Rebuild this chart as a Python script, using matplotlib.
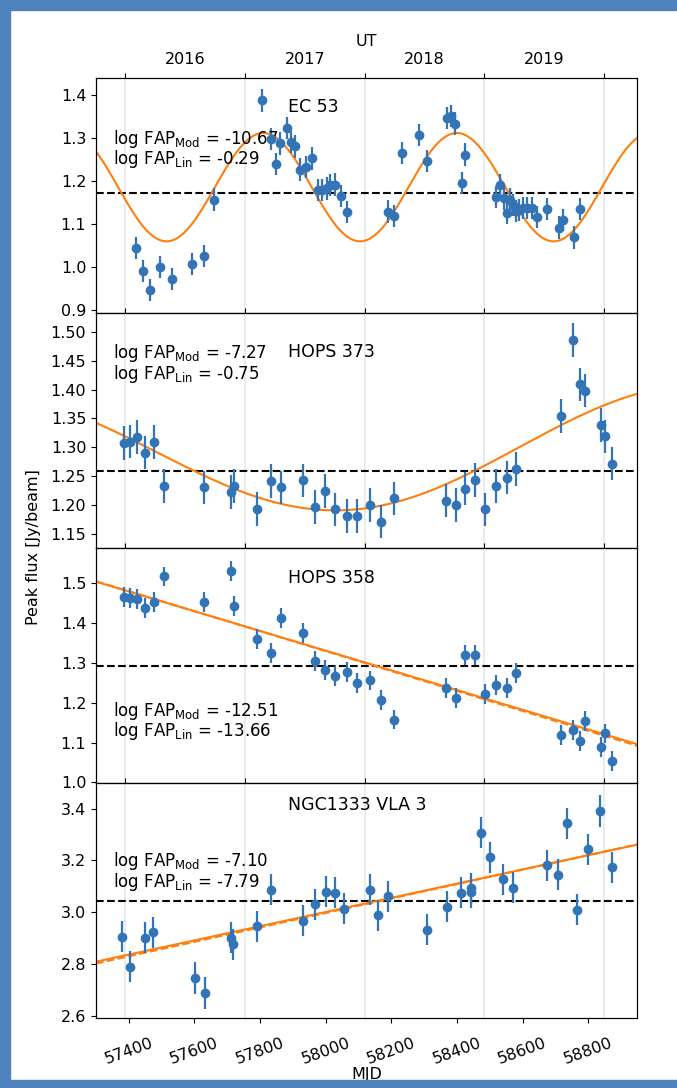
import numpy as np
import matplotlib.pyplot as plt
from matplotlib.patches import Rectangle

plt.rcParams['font.size'] = 11.5

xlim = (57300, 58950)
mjd_ticks = [57400, 57600, 57800, 58000, 58200, 58400, 58600, 58800]
year_start = [57388, 57754, 58119, 58484, 58849]
year_mid = [57571, 57937, 58302, 58667]
year_labels = ['2016', '2017', '2018', '2019']

ec53_mjd = [57422, 57444, 57465, 57494, 57531, 57593, 57629, 57661, 57807, 57834,
            57848, 57862, 57881, 57895, 57908, 57922, 57941, 57958, 57976, 57990,
            58004, 58014, 58027, 58046, 58066, 58190, 58209, 58234, 58285, 58308,
            58371, 58382, 58395, 58415, 58426, 58520, 58532, 58544, 58554, 58562,
            58571, 58579, 58590, 58601, 58614, 58629, 58644, 58676, 58711, 58724,
            58758, 58776]
ec53_flux = [1.045, 0.991, 0.946, 1.001, 0.972, 1.008, 1.026, 1.157, 1.388, 1.298,
             1.240, 1.288, 1.324, 1.291, 1.281, 1.227, 1.233, 1.253, 1.179, 1.179,
             1.183, 1.191, 1.192, 1.166, 1.128, 1.129, 1.119, 1.266, 1.308, 1.247,
             1.347, 1.351, 1.334, 1.195, 1.262, 1.163, 1.190, 1.160, 1.126, 1.157,
             1.144, 1.130, 1.133, 1.137, 1.137, 1.137, 1.117, 1.135, 1.092, 1.109,
             1.069, 1.135]

orion_mjd = [57384, 57404, 57426, 57449, 57478, 57507, 57630, 57713, 57720, 57792,
             57833, 57864, 57930, 57968, 57999, 58028, 58065, 58096, 58136, 58168,
             58209, 58368, 58397, 58425, 58456, 58487, 58520, 58553, 58581, 58716,
             58753, 58776, 58790, 58838, 58851, 58874]
hops373_flux = [1.308, 1.310, 1.318, 1.291, 1.309, 1.233, 1.231, 1.223, 1.233, 1.194,
                1.242, 1.231, 1.243, 1.197, 1.225, 1.193, 1.182, 1.182, 1.201, 1.172,
                1.212, 1.208, 1.201, 1.229, 1.244, 1.193, 1.233, 1.248, 1.263, 1.354,
                1.486, 1.409, 1.398, 1.339, 1.319, 1.272]
hops358_flux = [1.466, 1.462, 1.460, 1.437, 1.452, 1.517, 1.454, 1.530, 1.442, 1.360,
                1.324, 1.412, 1.374, 1.305, 1.283, 1.267, 1.278, 1.249, 1.256, 1.208,
                1.158, 1.236, 1.212, 1.321, 1.321, 1.223, 1.245, 1.237, 1.274, 1.120,
                1.131, 1.104, 1.155, 1.090, 1.123, 1.055]

ngc_mjd = [57380, 57403, 57449, 57474, 57603, 57632, 57713, 57719, 57792, 57833,
           57930, 57968, 58000, 58029, 58057, 58134, 58159, 58190, 58309, 58369,
           58414, 58443, 58444, 58475, 58502, 58541, 58571, 58676, 58709, 58737,
           58767, 58800, 58837, 58874]
ngc_flux = [2.906, 2.790, 2.901, 2.923, 2.746, 2.688, 2.901, 2.876, 2.946, 3.087,
            2.968, 3.030, 3.079, 3.076, 3.013, 3.087, 2.988, 3.061, 2.932, 3.022,
            3.076, 3.093, 3.078, 3.307, 3.212, 3.127, 3.094, 3.181, 3.145, 3.343,
            3.009, 3.243, 3.391, 3.173]

names = ['EC 53', 'HOPS 373', 'HOPS 358', 'NGC1333 VLA 3']
fap_mod = ['-10.67', '-7.27', '-12.51', '-7.10']
fap_lin = ['-0.29', '-0.75', '-13.66', '-7.79']
mean_flux = [1.173, 1.259, 1.293, 3.045]
flux_err = [0.026, 0.029, 0.025, 0.06]
ylims = [(0.893, 1.44), (1.126, 1.532), (0.998, 1.588), (2.59, 3.498)]
yticks = [np.arange(0.9, 1.41, 0.1), np.arange(1.15, 1.51, 0.05),
          np.arange(1.0, 1.51, 0.1), np.arange(2.6, 3.41, 0.2)]
yfmt = ['%.1f', '%.2f', '%.1f', '%.1f']

# sinusoid + slope model: offset, slope per day, amplitude, period, epoch of maximum
sine_pars = [(1.186, 0.0, 0.126, 590, 57810), (1.295, 9.1e-6, 0.104, 2200, 59140)]
# straight fits (solid model, dashed linear): value at xlim[0], value at xlim[1]
line_pars = [((1.504, 1.096), (1.505, 1.092)), ((2.809, 3.261), (2.802, 3.262))]

title_pos = [0.875, 0.835, 0.874, 0.908]
fap_pos = [0.698, 0.786, 0.265, 0.624]

blue = '#3274b5'
orange = '#ff7f0e'


def model(t, c, b, a, p, t0):
    return c + b * (t - 58000) + a * np.cos(2 * np.pi * (t - t0) / p)


def main():
    fig, axes = plt.subplots(4, 1, figsize=(6.77, 10.88), dpi=100, sharex=True)
    fig.subplots_adjust(left=0.1418, right=0.9414, top=0.9283, bottom=0.064, hspace=0)

    data = [(ec53_mjd, ec53_flux), (orion_mjd, hops373_flux),
            (orion_mjd, hops358_flux), (ngc_mjd, ngc_flux)]
    tt = np.linspace(xlim[0], xlim[1], 800)

    for i, ax in enumerate(axes):
        ax.set_xlim(xlim)
        for x in year_start:
            ax.axvline(x, color='#e8e8e8', lw=1.2, zorder=0)
        ax.axhline(mean_flux[i], color='k', ls='--', lw=1.5, zorder=1)

        if i < 2:
            ax.plot(tt, model(tt, *sine_pars[i]), color=orange, lw=1.5, zorder=2)
        else:
            solid, dashed = line_pars[i - 2]
            ax.plot(xlim, dashed, color=orange, lw=1.5, ls='--', zorder=2)
            ax.plot(xlim, solid, color=orange, lw=1.5, zorder=2)

        mjd, flux = data[i]
        ax.errorbar(mjd, flux, yerr=flux_err[i], fmt='o', color=blue, ms=6,
                    elinewidth=1.6, capsize=0, zorder=3)

        ax.set_ylim(ylims[i])
        ax.set_yticks(yticks[i])
        ax.set_yticklabels([yfmt[i] % v for v in yticks[i]])

        ax.text(0.354, title_pos[i], names[i], transform=ax.transAxes,
                fontsize=12.5, ha='left', va='center')
        fap = (r'log FAP$_{\mathrm{Mod}}$ = ' + fap_mod[i] + '\n' +
               r'log FAP$_{\mathrm{Lin}}$ = ' + fap_lin[i])
        ax.text(0.032, fap_pos[i], fap, transform=ax.transAxes, fontsize=12,
                ha='left', va='center', linespacing=0.92)

        top = ax.twiny()
        top.set_xlim(xlim)
        top.set_xticks(year_start)
        top.set_xticklabels([])
        if i == 0:
            top.set_xticks(year_mid, labels=year_labels, minor=True)
            top.set_xlabel('UT', fontsize=11.5)
        else:
            top.set_xticks(year_mid, minor=True)
            top.tick_params(which='minor', labeltop=False)
        top.tick_params(which='minor', length=0, pad=8)

        if i < 3:
            ax.tick_params(axis='x', bottom=False)

    axes[3].set_xticks(mjd_ticks)
    axes[3].set_xticklabels([str(v) for v in mjd_ticks], rotation=20)
    axes[3].tick_params(axis='x', pad=9)
    axes[3].set_xlabel('MJD', fontsize=11.5, labelpad=0)

    fig.text(0.049, 0.497, 'Peak flux [Jy/beam]', rotation=90,
             ha='center', va='center', fontsize=11.5)

    frame = '#4f81bd'
    fig.patches.append(Rectangle((0, 0), 10 / 677, 1, transform=fig.transFigure,
                                 color=frame, zorder=10))
    fig.patches.append(Rectangle((0, 1 - 10 / 1088), 1, 10 / 1088,
                                 transform=fig.transFigure, color=frame, zorder=10))
    fig.patches.append(Rectangle((0, 0), 1, 8 / 1088, transform=fig.transFigure,
                                 color=frame, zorder=10))

    fig.savefig('out.png', dpi=100)


if __name__ == "__main__":
    main()
